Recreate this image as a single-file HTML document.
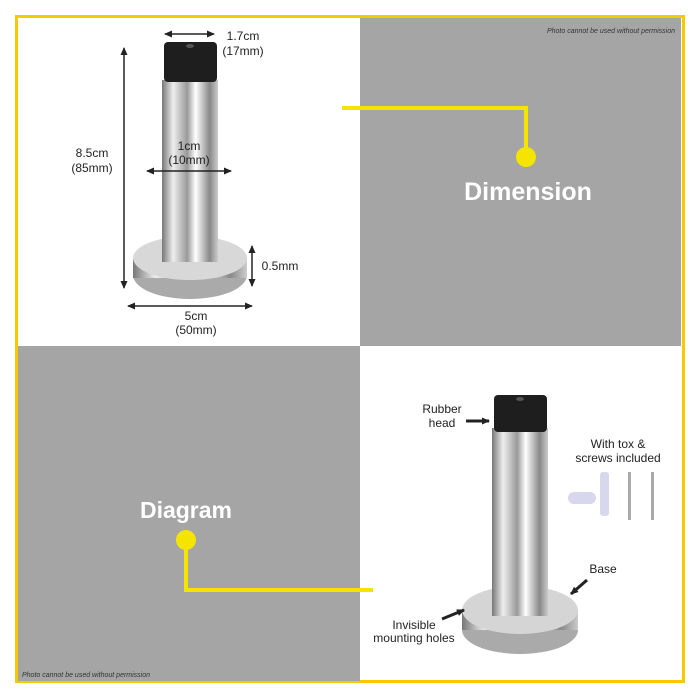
<!DOCTYPE html>
<html><head><style>
body{margin:0;width:700px;height:700px;background:#fff;position:relative;overflow:hidden;font-family:"Liberation Sans",sans-serif}
.a{position:absolute}
</style></head><body>
<div class="a" style="left:15px;top:15px;width:664px;height:662px;border:3px solid #f9c900"></div>
<div class="a" style="left:360px;top:18px;width:321px;height:328px;background:#a5a5a5"></div>
<div class="a" style="left:18px;top:346px;width:342px;height:335px;background:#a5a5a5"></div>
<svg class="a" style="left:0;top:0" width="700" height="700">
<defs>
<linearGradient id="m" x1="0" x2="1"><stop offset="0" stop-color="#777"/><stop offset=".2" stop-color="#eee"/><stop offset=".45" stop-color="#999"/><stop offset=".6" stop-color="#fff"/><stop offset=".85" stop-color="#888"/><stop offset="1" stop-color="#ccc"/></linearGradient>
<marker id="ar" markerUnits="userSpaceOnUse" markerWidth="8" markerHeight="8" refX="7" refY="4" orient="auto-start-reverse"><path d="M0,0.5L8,4L0,7.5z" fill="#222"/></marker>
</defs>
<ellipse cx="190" cy="275" rx="57" ry="24" fill="#aaa"/>
<rect x="133" y="258" width="114" height="20" fill="url(#m)"/>
<ellipse cx="190" cy="258" rx="57" ry="22" fill="#d8d8d8"/>
<rect x="162" y="80" width="56" height="182" fill="url(#m)"/>
<rect x="164" y="42" width="53" height="40" rx="4" fill="#1e1e1e"/>
<ellipse cx="190" cy="46" rx="4" ry="2" fill="#555"/>
<g stroke="#222" stroke-width="1.5" fill="none">
<line x1="122" y1="34" x2="162" y2="34" stroke-width="0"/>
<line x1="165" y1="34" x2="214" y2="34" marker-start="url(#ar)" marker-end="url(#ar)"/>
<line x1="124" y1="48" x2="124" y2="288" marker-start="url(#ar)" marker-end="url(#ar)"/>
<line x1="147" y1="171" x2="231" y2="171" marker-start="url(#ar)" marker-end="url(#ar)"/>
<line x1="252" y1="246" x2="252" y2="286" marker-start="url(#ar)" marker-end="url(#ar)"/>
<line x1="128" y1="306" x2="252" y2="306" marker-start="url(#ar)" marker-end="url(#ar)"/>
</g>
<g font-size="12" fill="#222" text-anchor="middle">
<text x="243" y="40">1.7cm</text><text x="243" y="55">(17mm)</text>
<text x="92" y="157">8.5cm</text><text x="92" y="172">(85mm)</text>
<text x="189" y="150">1cm</text><text x="189" y="164">(10mm)</text>
<text x="280" y="270">0.5mm</text>
<text x="196" y="320">5cm</text><text x="196" y="334">(50mm)</text>
</g>
<text x="675" y="33" font-size="7" font-style="italic" fill="#333" text-anchor="end">Photo cannot be used without permission</text>
<text x="22" y="677" font-size="7" font-style="italic" fill="#333">Photo cannot be used without permission</text>
<polyline points="342,108 526,108 526,155" fill="none" stroke="#f5e400" stroke-width="4"/>
<circle cx="526" cy="157" r="10" fill="#f5e400"/>
<text x="528" y="200" font-size="25" font-weight="bold" fill="#fff" text-anchor="middle">Dimension</text>
<polyline points="186,540 186,590 373,590" fill="none" stroke="#f5e400" stroke-width="4"/>
<circle cx="186" cy="540" r="10" fill="#f5e400"/>
<text x="186" y="518" font-size="23" font-weight="bold" fill="#fff" text-anchor="middle">Diagram</text>
<ellipse cx="520" cy="630" rx="58" ry="24" fill="#aaa"/>
<rect x="462" y="610" width="116" height="20" fill="url(#m)"/>
<ellipse cx="520" cy="610" rx="58" ry="24" fill="#d5d5d5"/>
<rect x="492" y="428" width="56" height="188" fill="url(#m)"/>
<rect x="494" y="395" width="53" height="37" rx="4" fill="#1e1e1e"/>
<ellipse cx="520" cy="399" rx="4" ry="2" fill="#555"/>
<g fill="#d7d7ee"><rect x="568" y="492" width="28" height="12" rx="6"/><rect x="600" y="472" width="9" height="44" rx="3"/></g>
<g fill="#aaa"><rect x="628" y="472" width="3" height="48"/><rect x="651" y="472" width="3" height="48"/></g>
<g stroke="#222" stroke-width="3" fill="none">
<line x1="466" y1="421" x2="489" y2="421" marker-end="url(#ar)"/>
<line x1="587" y1="580" x2="571" y2="594" marker-end="url(#ar)"/>
<line x1="442" y1="619" x2="464" y2="610" marker-end="url(#ar)"/>
</g>
<g font-size="12" fill="#222" text-anchor="middle">
<text x="442" y="413">Rubber</text><text x="442" y="427">head</text>
<text x="618" y="448">With tox &amp;</text><text x="618" y="462">screws included</text>
<text x="603" y="573">Base</text>
<text x="414" y="629">Invisible</text><text x="414" y="642">mounting holes</text>
</g>
</svg>
</body></html>
